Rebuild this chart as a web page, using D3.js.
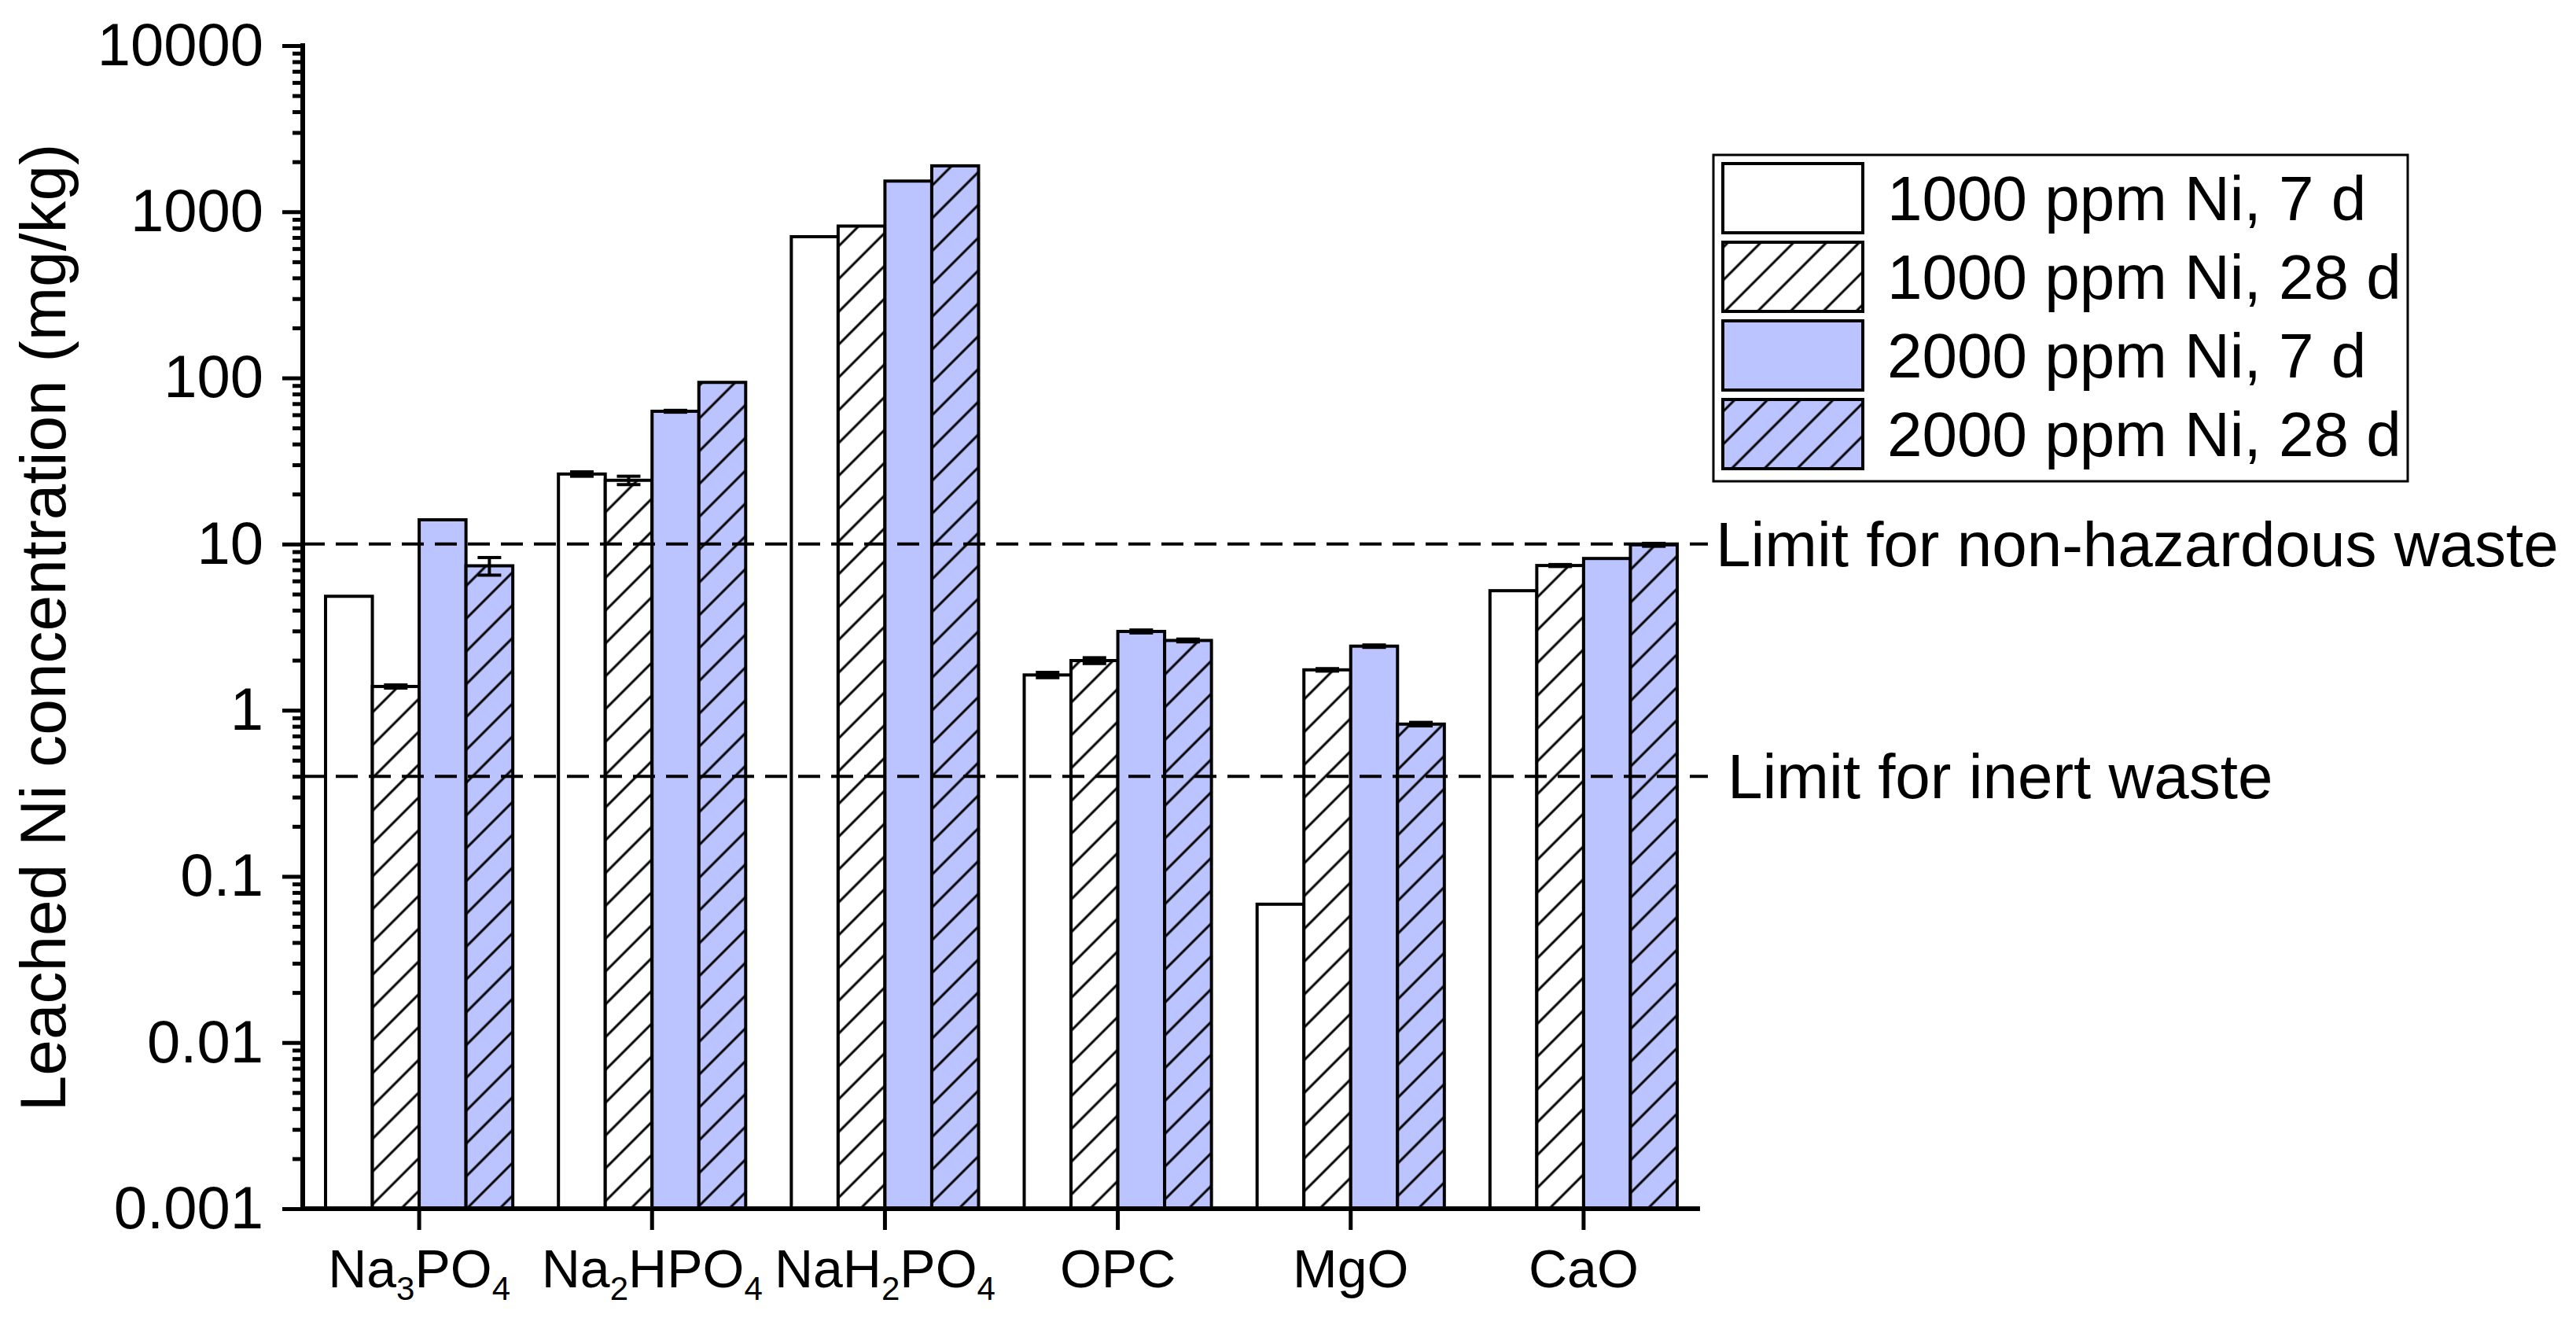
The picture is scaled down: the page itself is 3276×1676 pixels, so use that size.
<!DOCTYPE html>
<html>
<head>
<meta charset="utf-8">
<script src="https://d3js.org/d3.v7.min.js"></script>
<style>
  body { margin: 0; background: #fff; }
  svg { display: block; }
  text { font-family: "Liberation Sans", Arial, sans-serif; fill: #000; }
</style>
</head>
<body>
<div id="chart"></div>
<script>
// data
var categories = ["Na3PO4", "Na2HPO4", "NaH2PO4", "OPC", "MgO", "CaO"];
var series = ["1000 ppm Ni, 7 d", "1000 ppm Ni, 28 d", "2000 ppm Ni, 7 d", "2000 ppm Ni, 28 d"];

var ni1000_7d  = [4.85, 26.4, 708, 1.63, 0.068, 5.24];
var ni1000_28d = [1.39, 24.2, 820, 1.99, 1.75, 7.43];
var ni2000_7d  = [14.0, 63.0, 1530, 2.98, 2.43, 8.19];
var ni2000_28d = [7.40, 94.0, 1890, 2.63, 0.825, 9.9];

var err1000_7d  = [0, 0.8, 0, 0.06, 0, 0];
var err1000_28d = [0.03, 1.4, 0, 0.08, 0.03, 0.1];
var err2000_7d  = [0, 0.8, 0, 0.06, 0.04, 0];
var err2000_28d = [0.9, 0, 0, 0.05, 0.02, 0.2];

var yTicks = [0.001, 0.01, 0.1, 1, 10, 100, 1000, 10000];
var yTickLabels = ["0.001", "0.01", "0.1", "1", "10", "100", "1000", "10000"];

var limitValues = [10, 0.4];
var limitLabels = ["Limit for non-hazardous waste", "Limit for inert waste"];

var values = [ni1000_7d, ni1000_28d, ni2000_7d, ni2000_28d];
var errors = [err1000_7d, err1000_28d, err2000_7d, err2000_28d];

var W = 3276, H = 1676;
var plotLeft = 385, plotRight = 2162, plotTop = 58, plotBottom = 1537;
var blue = "#BCC4FF";
var fills = ["#fff", "url(#hatchWhite)", blue, "url(#hatchBlue)"];

var svg = d3.select("#chart").append("svg")
  .attr("width", W)
  .attr("height", H);

// hatch patterns
var defs = svg.append("defs");
function hatch(id, bg) {
  var p = defs.append("pattern")
    .attr("id", id)
    .attr("patternUnits", "userSpaceOnUse")
    .attr("width", 29.5)
    .attr("height", 29.5)
    .attr("patternTransform", "rotate(45)");
  p.append("rect").attr("width", 29.5).attr("height", 29.5).attr("fill", bg);
  p.append("line")
    .attr("x1", 2).attr("y1", 0).attr("x2", 2).attr("y2", 29.5)
    .attr("stroke", "#000").attr("stroke-width", 3);
}
hatch("hatchWhite", "#fff");
hatch("hatchBlue", blue);

var x = d3.scaleBand()
  .domain(categories)
  .range([plotLeft, plotRight])
  .paddingInner(0.196)
  .paddingOuter(0.098);

var xs = d3.scaleBand()
  .domain(d3.range(series.length))
  .range([0, x.bandwidth()]);

var y = d3.scaleLog()
  .domain([0.001, 10000])
  .range([plotBottom, plotTop]);

// bars
var rows = [];
categories.forEach(function (c, i) {
  series.forEach(function (s, j) {
    rows.push({ cat: c, s: j, v: values[j][i], e: errors[j][i] });
  });
});

svg.append("g").selectAll("rect")
  .data(rows)
  .enter()
  .append("rect")
  .attr("x", function (d) { return x(d.cat) + xs(d.s); })
  .attr("y", function (d) { return y(d.v); })
  .attr("width", xs.bandwidth())
  .attr("height", function (d) { return plotBottom - y(d.v); })
  .attr("fill", function (d) { return fills[d.s]; })
  .attr("stroke", "#000")
  .attr("stroke-width", 4);

// error bars
var eb = svg.append("g").attr("stroke", "#000").attr("stroke-width", 4);
rows.filter(function (d) { return d.e > 0; }).forEach(function (d) {
  var cx = x(d.cat) + xs(d.s) + xs.bandwidth() / 2;
  var y1 = y(d.v + d.e), y2 = y(d.v - d.e);
  eb.append("line").attr("x1", cx).attr("x2", cx).attr("y1", y1).attr("y2", y2);
  eb.append("line").attr("x1", cx - 15).attr("x2", cx + 15).attr("y1", y1).attr("y2", y1);
  eb.append("line").attr("x1", cx - 15).attr("x2", cx + 15).attr("y1", y2).attr("y2", y2);
});

// limit lines
limitValues.forEach(function (v, i) {
  svg.append("line")
    .attr("x1", plotLeft).attr("x2", 2172)
    .attr("y1", y(v)).attr("y2", y(v))
    .attr("stroke", "#000")
    .attr("stroke-width", 4)
    .attr("stroke-dasharray", "28 14");
  svg.append("text")
    .attr("x", i == 0 ? 2182 : 2197)
    .attr("y", y(v) + 28)
    .attr("font-size", 80)
    .text(limitLabels[i]);
});

// y axis
var minor = [];
for (var k = -3; k < 4; k++) {
  for (var m = 2; m < 10; m++) minor.push(m * Math.pow(10, k));
}
svg.append("g")
  .attr("transform", "translate(" + plotLeft + ",0)")
  .call(d3.axisLeft(y).tickValues(minor).tickSize(13).tickFormat(""))
  .call(function (g) {
    g.select(".domain").remove();
    g.selectAll("line").attr("stroke-width", 5);
  });

svg.append("g")
  .attr("transform", "translate(" + plotLeft + ",0)")
  .call(d3.axisLeft(y).tickValues(yTicks).tickSize(26).tickPadding(24)
    .tickFormat(function (d, i) { return yTickLabels[i]; }))
  .call(function (g) {
    g.select(".domain").attr("stroke-width", 6).attr("d", "M0," + (plotTop - 3) + "V" + (plotBottom + 3));
    g.selectAll("line").attr("stroke-width", 5);
    g.selectAll("text")
      .attr("font-size", 76)
      .attr("font-family", "Liberation Sans, Arial, sans-serif")
      .attr("fill", "#000");
  });

// x axis
var xg = svg.append("g")
  .attr("transform", "translate(0," + plotBottom + ")")
  .call(d3.axisBottom(x).tickSize(27).tickFormat(""));
xg.select(".domain").attr("stroke-width", 6).attr("d", "M" + (plotLeft - 3) + ",0H" + plotRight);
xg.selectAll("line").attr("stroke-width", 5);

// category labels with chemical subscripts
categories.forEach(function (c) {
  var t = svg.append("text")
    .attr("x", x(c) + x.bandwidth() / 2)
    .attr("y", 1637)
    .attr("text-anchor", "middle")
    .attr("font-size", 68);
  var parts = c.match(/[0-9]+|[^0-9]+/g);
  var shifted = false;
  parts.forEach(function (p) {
    var isSub = /^[0-9]+$/.test(p);
    var dy = 0;
    if (isSub && !shifted) { dy = 16; shifted = true; }
    else if (!isSub && shifted) { dy = -16; shifted = false; }
    t.append("tspan")
      .attr("dy", dy)
      .attr("font-size", isSub ? 42 : 68)
      .text(p);
  });
});

// y title
svg.append("text")
  .attr("transform", "translate(83,798) rotate(-90)")
  .attr("text-anchor", "middle")
  .attr("font-size", 82)
  .text("Leached Ni concentration (mg/kg)");

// legend
var lg = svg.append("g");
lg.append("rect")
  .attr("x", 2179).attr("y", 197)
  .attr("width", 883).attr("height", 415)
  .attr("fill", "#fff")
  .attr("stroke", "#000")
  .attr("stroke-width", 3);
series.forEach(function (s, i) {
  var ty = 208 + i * 100;
  lg.append("rect")
    .attr("x", 2191).attr("y", ty)
    .attr("width", 178).attr("height", 88)
    .attr("fill", fills[i])
    .attr("stroke", "#000")
    .attr("stroke-width", 4);
  lg.append("text")
    .attr("x", 2400)
    .attr("y", ty + 72)
    .attr("font-size", 80)
    .text(s);
});
</script>
</body>
</html>
